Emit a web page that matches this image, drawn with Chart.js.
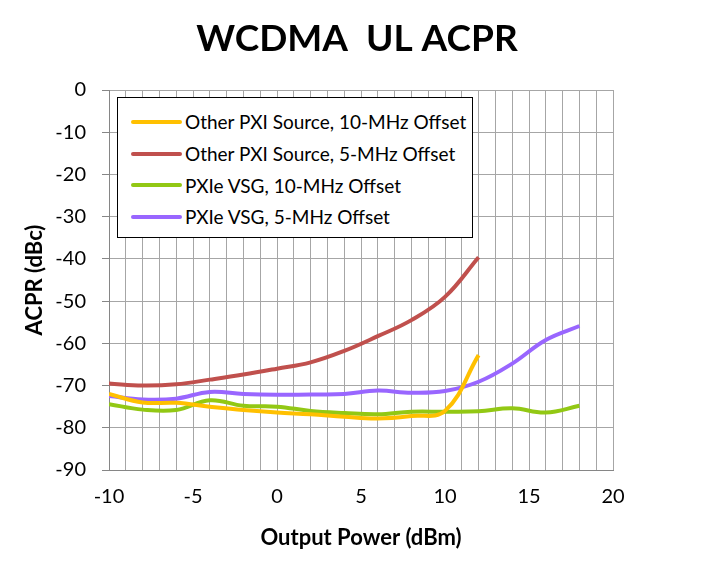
<!DOCTYPE html>
<html lang="en">
<head>
  <meta charset="UTF-8">
  <title>WCDMA UL ACPR</title>
  <script src="https://cdn.jsdelivr.net/npm/chart.js"></script>
  <style>
    * { box-sizing: border-box; margin: 0; padding: 0; }
    body { background: #fff; font-family: Lato, sans-serif; }
    .wrap { position: relative; width: 714px; height: 572px; }

    /* Legend box sits inside the plot, top-left */
    #legend {
      position: absolute;
      left: 117px;
      top: 97px;
      width: 356px;
      height: 141px;
      background: #fff;
      border: 1px solid #000;
      padding-top: 8px;
    }
    #legend .item {
      display: flex;
      align-items: center;
      height: 31.7px;
      font-size: 19px;
      color: #000;
      white-space: nowrap;
    }
    #legend .swatch {
      width: 51px;
      height: 4px;
      border-radius: 2px;
      margin-left: 13px;
      margin-right: 3px;
    }
  </style>
</head>
<body>

<div class="wrap">
  <canvas id="chart" width="714" height="572"></canvas>
  <div id="legend"></div>
</div>

<script>
  // output power (dBm) sample points
  const xsOther = [-10, -8, -6, -4, -2, 0, 2, 4, 6, 8, 10, 12];
  const xsVsg = [-10, -8, -6, -4, -2, 0, 2, 4, 6, 8, 10, 12, 14, 16, 18];

  // ACPR (dBc)
  const other10 = [-72, -74, -74.1, -75, -75.8, -76.4, -76.8, -77.4, -77.8, -77.2, -76, -62.8];
  const other5 = [-69.5, -70, -69.7, -68.6, -67.4, -66, -64.5, -61.8, -58.3, -54.5, -49, -39.6];
  const vsg10 = [-74.4, -75.7, -75.8, -73.5, -74.8, -75, -76, -76.5, -76.8, -76.2, -76.2, -76.1, -75.4, -76.4, -74.8];
  const vsg5 = [-72.5, -73.3, -73.1, -71.5, -72, -72.2, -72.1, -72, -71.2, -71.7, -71.3, -69.1, -64.8, -59.2, -55.9];

  const seriesNames = [
    'Other PXI Source, 10-MHz Offset',
    'Other PXI Source, 5-MHz Offset',
    'PXIe VSG, 10-MHz Offset',
    'PXIe VSG, 5-MHz Offset'
  ];
  const seriesColors = ['#FFC000', '#C0504D', '#92C814', '#9966FF'];

  const xMin = -10, xMax = 20, xStep = 1, xLabelEvery = 5;
  const yMin = -90, yMax = 0, yStep = 10;

  function pts(xs, ys) {
    return xs.map((x, i) => ({ x: x, y: ys[i] }));
  }

  const seriesData = [
    pts(xsOther, other10),
    pts(xsOther, other5),
    pts(xsVsg, vsg10),
    pts(xsVsg, vsg5)
  ];

  const font = 'Lato, sans-serif';

  new Chart(document.getElementById('chart'), {
    type: 'line',
    data: {
      datasets: seriesData.map((d, i) => ({
        label: seriesNames[i],
        data: d,
        borderColor: seriesColors[i],
        backgroundColor: seriesColors[i],
        borderWidth: 4,
        pointRadius: 0,
        tension: 0.4,
        fill: false
      }))
    },
    options: {
      responsive: false,
      animation: false,
      layout: { padding: 0 },
      plugins: {
        legend: { display: false },
        tooltip: { enabled: false },
        title: {
          display: true,
          text: 'WCDMA  UL ACPR',
          color: '#000',
          font: { family: font, size: 37, weight: 'bold' },
          padding: { top: 17, bottom: 28.6 }
        }
      },
      scales: {
        x: {
          type: 'linear',
          min: xMin,
          max: xMax,
          afterFit: s => { s.height = 102; },
          afterBuildTicks: s => {
            const t = [];
            for (let v = xMin; v <= xMax; v += xStep) t.push({ value: v });
            s.ticks = t;
          },
          grid: { color: '#A6A6A6', lineWidth: 1, drawTicks: false },
          border: { color: '#868686', width: 1 },
          ticks: {
            color: '#000',
            font: { family: font, size: 20 },
            padding: 15,
            autoSkip: false,
            maxRotation: 0,
            callback: v => (v % xLabelEvery === 0 ? String(v) : '')
          },
          title: {
            display: true,
            text: 'Output Power (dBm)',
            color: '#000',
            font: { family: font, size: 22, weight: 'bold' },
            padding: { top: 0, bottom: 21 }
          }
        },
        y: {
          min: yMin,
          max: yMax,
          afterFit: s => { s.width = 109; },
          grid: { color: '#A6A6A6', lineWidth: 1, tickLength: 7, tickColor: '#868686' },
          border: { color: '#868686', width: 1 },
          ticks: {
            stepSize: yStep,
            color: '#000',
            font: { family: font, size: 20 },
            padding: 16
          },
          title: {
            display: true,
            text: 'ACPR (dBc)',
            color: '#000',
            font: { family: font, size: 22, weight: 'bold' },
            padding: { top: 22, bottom: 0 }
          }
        },
        // empty right margin so the title centres on the whole canvas
        yRight: {
          position: 'right',
          min: yMin,
          max: yMax,
          afterFit: s => { s.width = 101; },
          grid: { display: false },
          border: { display: false },
          ticks: { display: false }
        }
      }
    }
  });

  // legend drawn as html over the plot
  const legend = document.getElementById('legend');
  seriesNames.forEach((name, i) => {
    const row = document.createElement('div');
    row.className = 'item';
    const sw = document.createElement('span');
    sw.className = 'swatch';
    sw.style.background = seriesColors[i];
    const txt = document.createElement('span');
    txt.textContent = name;
    row.appendChild(sw);
    row.appendChild(txt);
    legend.appendChild(row);
  });
</script>

</body>
</html>
